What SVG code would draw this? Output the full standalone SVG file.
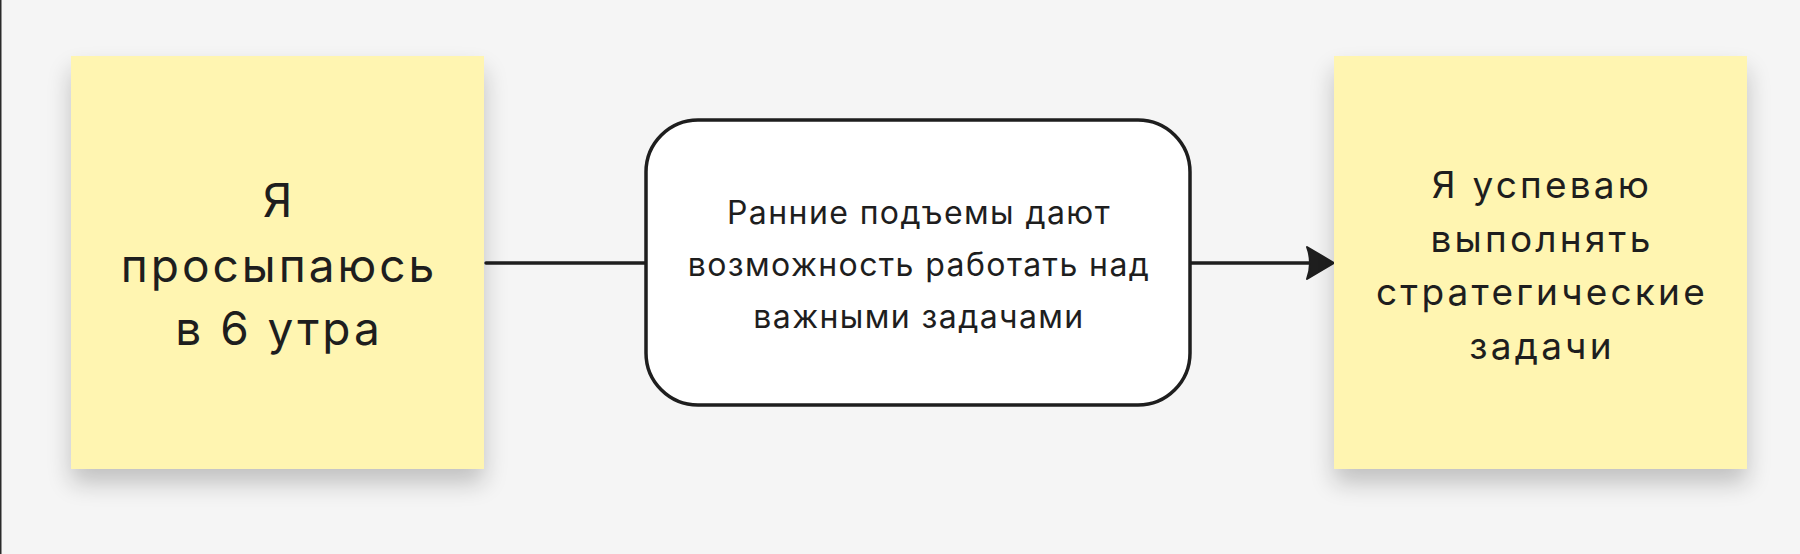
<svg xmlns="http://www.w3.org/2000/svg" width="1800" height="554" viewBox="0 0 1800 554">
<defs>
<style>
.t{font-family:Inter,"Noto Sans","Liberation Sans",sans-serif;fill:#1e1e1e;text-anchor:middle}
.sticky{fill:#FFF5B1}
.conn{stroke:#1e1e1e;stroke-width:3.5;fill:none;stroke-linecap:round}
</style>
<filter id="sh" x="-20%" y="-20%" width="140%" height="150%">
<feGaussianBlur in="SourceAlpha" stdDeviation="12"/>
<feOffset dy="14" result="b"/>
<feComponentTransfer><feFuncA type="linear" slope="0.22"/></feComponentTransfer>
<feMerge><feMergeNode/><feMergeNode in="SourceGraphic"/></feMerge>
</filter>
</defs>
<rect x="0" y="0" width="1800" height="554" fill="#F5F5F5"/>
<rect x="0" y="0" width="1.5" height="554" fill="#2a2a2a"/>
<g id="connectors">
<line class="conn" x1="486" y1="263" x2="645" y2="263"/>
<line class="conn" x1="1191" y1="263" x2="1318" y2="263"/>
<path d="M1334 263 L1307 247 Q1313 263 1307 279 Z" fill="#1e1e1e" stroke="#1e1e1e" stroke-width="2" stroke-linejoin="round"/>
</g>
<g id="node-wake">
<rect class="sticky" x="71" y="56" width="413" height="413" filter="url(#sh)"/>
<text class="t" font-size="46" letter-spacing="3"><tspan x="279" y="217">Я</tspan><tspan x="279" y="281.5">просыпаюсь</tspan><tspan x="279" y="345">в 6 утра</tspan></text>
</g>
<g id="node-reason">
<rect x="646" y="120" width="544" height="285" rx="52" fill="#ffffff" stroke="#1e1e1e" stroke-width="3.5"/>
<text class="t" font-size="32" letter-spacing="1.4"><tspan x="919" y="224">Ранние подъемы дают</tspan><tspan x="919" y="276">возможность работать над</tspan><tspan x="919" y="328">важными задачами</tspan></text>
</g>
<g id="node-result">
<rect class="sticky" x="1334" y="56" width="413" height="413" filter="url(#sh)"/>
<text class="t" font-size="37" letter-spacing="3.2"><tspan x="1542" y="198">Я успеваю</tspan><tspan x="1542" y="251.5">выполнять</tspan><tspan x="1542" y="305">стратегические</tspan><tspan x="1542" y="358.5">задачи</tspan></text>
</g>
</svg>
